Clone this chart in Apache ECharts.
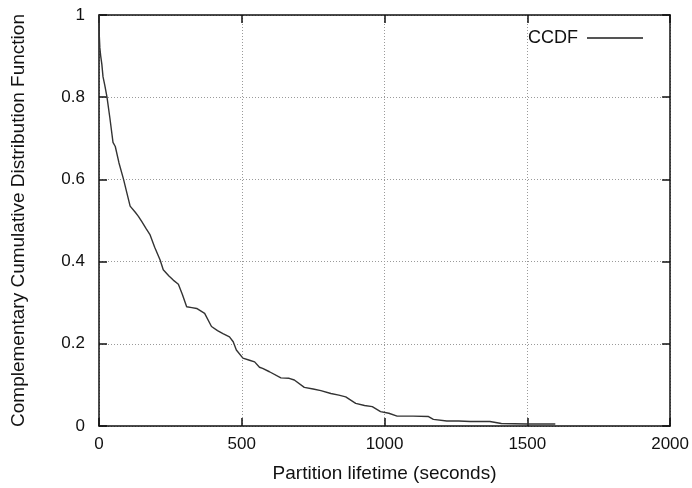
<!DOCTYPE html>
<html>
<head>
<meta charset="utf-8">
<script src="https://cdn.jsdelivr.net/npm/echarts@6/dist/echarts.min.js"></script>
<style>html,body{margin:0;padding:0;background:#fff;}#c{width:692px;height:488px;}</style>
</head>
<body>
<div id="c"></div>
<script>
const seriesName = "CCDF";
const xValues = [0, 1, 3, 6, 10, 14, 20, 28, 38, 49, 57, 70, 86, 98, 109, 127, 138, 150, 165, 179, 195, 214, 225, 245, 260, 278, 292, 307, 325, 342, 370, 394, 415, 434, 457, 470, 481, 504, 527, 545, 562, 573, 597, 637, 666, 684, 719, 750, 777, 812, 840, 864, 899, 930, 957, 986, 1015, 1044, 1100, 1154, 1171, 1218, 1260, 1300, 1369, 1409, 1500, 1598];
const yValues = [1.0, 0.95, 0.92, 0.90, 0.88, 0.85, 0.83, 0.80, 0.75, 0.69, 0.68, 0.64, 0.60, 0.566, 0.535, 0.52, 0.51, 0.497, 0.48, 0.465, 0.435, 0.404, 0.38, 0.365, 0.355, 0.345, 0.32, 0.29, 0.288, 0.286, 0.274, 0.242, 0.232, 0.225, 0.217, 0.205, 0.185, 0.165, 0.16, 0.156, 0.143, 0.14, 0.132, 0.117, 0.116, 0.112, 0.094, 0.09, 0.086, 0.079, 0.075, 0.071, 0.055, 0.05, 0.047, 0.035, 0.031, 0.024, 0.024, 0.023, 0.016, 0.012, 0.012, 0.011, 0.011, 0.006, 0.005, 0.005];
const xTicks = [0, 500, 1000, 1500, 2000];
const yTicks = [0, 0.2, 0.4, 0.6, 0.8, 1];

const data = xValues.map((x, i) => [x, yValues[i]]);
const font = "'Liberation Sans', Arial, sans-serif";

const chart = echarts.init(document.getElementById('c'), null, {renderer: 'canvas'});
const gridLine = {show: true, lineStyle: {color: '#9a9a9a', type: [1, 2], width: 1}};
const axisLineStyle = {show: true, onZero: false, lineStyle: {color: '#111', width: 1.5}};
const tick = {show: true, inside: true, length: 8, lineStyle: {color: '#111', width: 1.5}};
chart.setOption({
  animation: false,
  backgroundColor: '#fff',
  grid: {left: 99, right: 19, top: 15, bottom: 62, containLabel: false},
  legend: {
    show: true, right: 44, top: 24, align: 'right', orient: 'horizontal',
    itemWidth: 56, itemHeight: 2,
    textStyle: {fontFamily: font, fontSize: 18, color: '#111', padding: [0, 4, 0, 0]},
    icon: 'rect',
    itemStyle: {color: '#555', borderWidth: 0},
    data: [{name: seriesName, icon: 'rect'}]
  },
  xAxis: [{
    type: 'value', min: 0, max: 2000, interval: 500, position: 'bottom',
    name: 'Partition lifetime (seconds)', nameLocation: 'middle', nameGap: 38,
    nameTextStyle: {fontFamily: font, fontSize: 19, color: '#111'},
    axisLine: axisLineStyle, axisTick: tick,
    axisLabel: {fontFamily: font, fontSize: 17, color: '#111', margin: 10,
      formatter: v => xTicks.includes(v) ? String(v) : ''},
    splitLine: gridLine
  }, {
    type: 'value', min: 0, max: 2000, interval: 500, position: 'top',
    axisLine: axisLineStyle, axisTick: tick,
    axisLabel: {show: false}, splitLine: {show: false}
  }],
  yAxis: [{
    type: 'value', min: 0, max: 1, interval: 0.2, position: 'left',
    name: 'Complementary Cumulative Distribution Function', nameLocation: 'middle', nameGap: 71,
    nameTextStyle: {fontFamily: font, fontSize: 19, color: '#111'},
    axisLine: axisLineStyle, axisTick: tick,
    axisLabel: {fontFamily: font, fontSize: 17, color: '#111', margin: 14,
      formatter: v => { const t = yTicks.find(k => Math.abs(k - v) < 1e-9); return t === undefined ? '' : String(t); }},
    splitLine: gridLine
  }, {
    type: 'value', min: 0, max: 1, interval: 0.2, position: 'right',
    axisLine: axisLineStyle, axisTick: tick,
    axisLabel: {show: false}, splitLine: {show: false}
  }],
  series: [{
    name: seriesName, type: 'line', data: data, showSymbol: false, symbol: 'none',
    lineStyle: {color: '#333', width: 1.4}, itemStyle: {color: '#555'}
  }]
});
</script>
</body>
</html>
